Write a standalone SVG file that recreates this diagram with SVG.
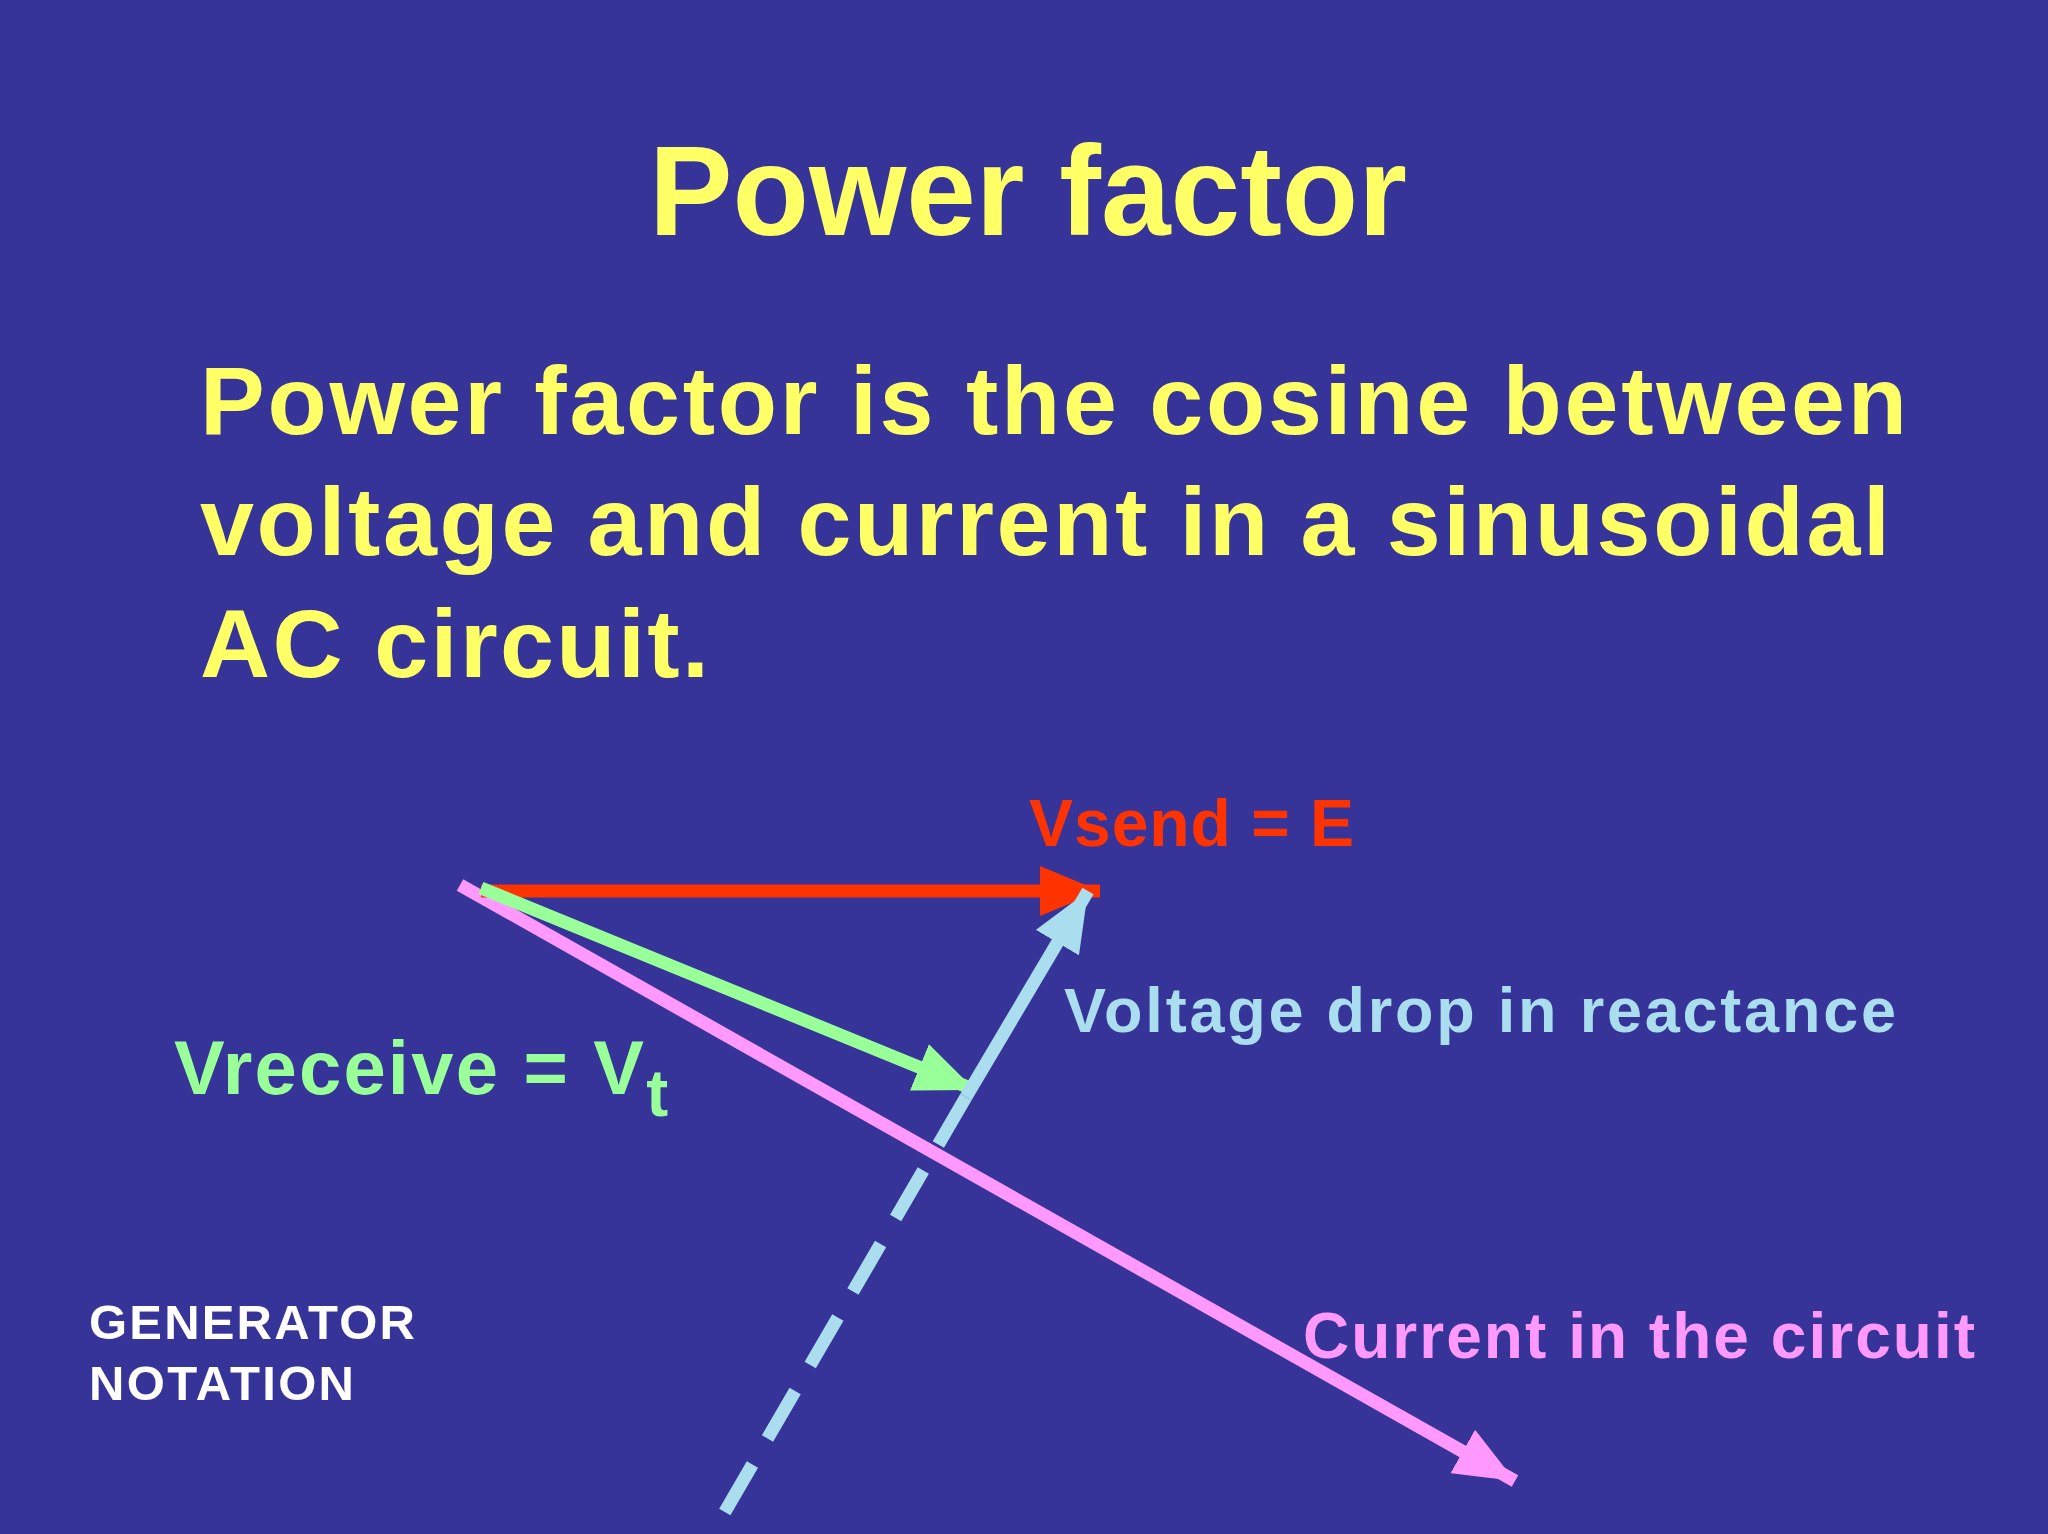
<svg xmlns="http://www.w3.org/2000/svg" width="2048" height="1534" viewBox="0 0 2048 1534">
<style>
text{font-family:"Liberation Sans",Arial,sans-serif;font-weight:bold}
.y{fill:#FFFF66}
</style>
<defs>
<marker id="mr" markerUnits="userSpaceOnUse" markerWidth="70" markerHeight="50" refX="60" refY="25" orient="auto"><path d="M0,0 L60,25 L0,50 Z" fill="#FF3300"/></marker>
<marker id="mg" markerUnits="userSpaceOnUse" markerWidth="70" markerHeight="50" refX="60" refY="25" orient="auto"><path d="M0,0 L60,25 L0,50 Z" fill="#99FF99"/></marker>
<marker id="mb" markerUnits="userSpaceOnUse" markerWidth="70" markerHeight="50" refX="60" refY="25" orient="auto"><path d="M0,0 L60,25 L0,50 Z" fill="#AADDEE"/></marker>
<marker id="mp" markerUnits="userSpaceOnUse" markerWidth="70" markerHeight="50" refX="60" refY="25" orient="auto"><path d="M0,0 L60,25 L0,50 Z" fill="#FF99FF"/></marker>
</defs>
<rect width="2048" height="1534" fill="#363399"/>
<g id="title"><text class="y" x="649" y="235" font-size="128" textLength="758" lengthAdjust="spacingAndGlyphs">Power factor</text></g>
<g id="body">
<text class="y" x="200" y="434" font-size="97" textLength="1707">Power factor is the cosine between</text>
<text class="y" x="200" y="555" font-size="97" textLength="1690">voltage and current in a sinusoidal</text>
<text class="y" x="200" y="677" font-size="97" textLength="509">AC circuit.</text>
</g>
<g id="connectors" fill="none" stroke-width="13">
<line x1="460" y1="885" x2="1515" y2="1481" stroke="#FF99FF" marker-end="url(#mp)"/>
<line x1="481" y1="891" x2="1100" y2="891" stroke="#FF3300" marker-end="url(#mr)"/>
<line x1="481" y1="888" x2="975" y2="1090" stroke="#99FF99" marker-end="url(#mg)"/>
<line x1="966" y1="1097" x2="1088" y2="891" stroke="#AADDEE" marker-end="url(#mb)"/>
<line x1="966" y1="1097" x2="712" y2="1534" stroke="#AADDEE" stroke-dasharray="55 30"/>
</g>
<g id="labels">
<text x="1029" y="846" font-size="66" fill="#FF3300" textLength="325">Vsend = E</text>
<text x="1064" y="1032" font-size="63" fill="#AADDEE" textLength="832">Voltage drop in reactance</text>
<text x="174" y="1094" font-size="76" fill="#99FF99"><tspan textLength="470">Vreceive = V</tspan><tspan font-size="66" dy="22">t</tspan></text>
<text x="1303" y="1358" font-size="64" fill="#FF99FF" textLength="672">Current in the circuit</text>
<text x="89" y="1339" font-size="49" fill="#FFFFFF" textLength="326">GENERATOR</text>
<text x="89" y="1400" font-size="49" fill="#FFFFFF" textLength="265">NOTATION</text>
</g>
</svg>
